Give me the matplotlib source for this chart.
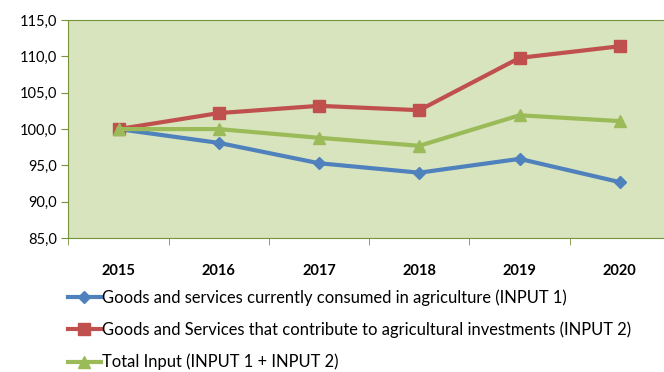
import matplotlib
matplotlib.use("Agg")
import matplotlib.pyplot as plt
import numpy as np

years = ["2015", "2016", "2017", "2018", "2019", "2020"]
input1 = [100.0, 98.1, 95.3, 94.0, 95.9, 92.7]
input2 = [100.0, 102.2, 103.2, 102.6, 109.8, 111.4]
total = [100.0, 100.0, 98.8, 97.7, 101.9, 101.1]
labels = [
    "Goods and services currently consumed in agriculture (INPUT 1)",
    "Goods and Services that contribute to agricultural investments (INPUT 2)",
    "Total Input (INPUT 1 + INPUT 2)",
]
yticks = [85, 90, 95, 100, 105, 110, 115]

plt.rcParams["font.family"] = ["Lato", "DejaVu Sans"]

fig = plt.figure(figsize=(6.64, 3.72), dpi=100)
ax = fig.add_axes([0.103, 0.36, 0.906, 0.586])
ax.set_facecolor("#D7E4BD")

x = np.arange(len(years))
l1, = ax.plot(x, input1, color="#4F81BD", lw=3, marker="D", ms=6)
l2, = ax.plot(x, input2, color="#C0504D", lw=3, marker="s", ms=8)
l3, = ax.plot(x, total, color="#9BBB59", lw=3, marker="^", ms=9)

ax.set_xlim(-0.5, len(years) - 0.5)
ax.set_ylim(85, 115)
ax.set_yticks(yticks)
ax.set_yticklabels([f"{v:.1f}".replace(".", ",") for v in yticks], fontsize=10.5)
ax.set_xticks(x)
ax.set_xticklabels(years, fontsize=10.5, fontweight="bold")
ax.set_xticks(np.arange(len(years) + 1) - 0.5, minor=True)
ax.tick_params(axis="x", which="major", length=0, pad=19)
ax.tick_params(axis="x", which="minor", length=5, color="#77933C")
ax.tick_params(axis="y", length=5, color="#77933C", pad=3)
for s in ax.spines.values():
    s.set_color("#77933C")

fig.legend([l1, l2, l3], labels, loc="upper left", bbox_to_anchor=(0.092, 0.24),
           frameon=False, fontsize=11.9, handlelength=2.0, handletextpad=0.1,
           labelspacing=0.95, borderaxespad=0)

fig.savefig("out.png", dpi=100)
